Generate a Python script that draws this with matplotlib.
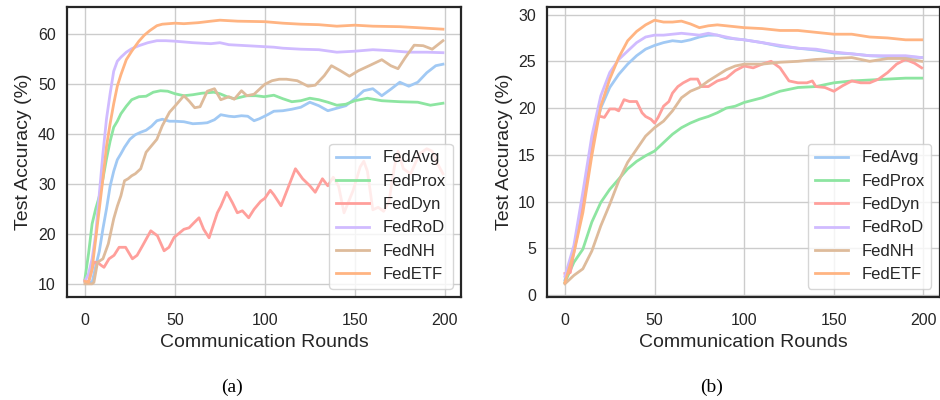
import matplotlib
matplotlib.use("Agg")
import matplotlib.pyplot as plt

plt.rcParams['font.family'] = ['Liberation Sans', 'DejaVu Sans']

methods = ["FedAvg", "FedProx", "FedDyn", "FedRoD", "FedNH", "FedETF"]
colors = ["#a1c9f4", "#8de5a1", "#ff9f9b", "#d0bbff", "#debb9b", "#ffb482"]

# ---- panel (a) ----
a_avg_x = [0, 2, 4, 6, 8, 10, 12, 14, 16, 18, 20, 22, 25, 28, 31, 34, 37, 40, 43, 47, 50, 55, 60, 65, 68,
           72, 75.5, 80, 83, 87, 90.5, 94, 97, 101.5, 105, 110, 115, 120, 125, 130, 135, 140, 145, 150,
           155, 160, 165, 170, 175, 180, 185, 190, 195, 199]
a_avg_y = [10.5, 10.3, 10.3, 13.5, 16.5, 21, 25, 29.5, 32.5, 34.8, 36, 37.3, 38.9, 39.8, 40.3, 40.7, 41.5,
           42.6, 42.9, 42.5, 42.5, 42.4, 42.0, 42.1, 42.2, 42.8, 43.8, 43.5, 43.4, 43.6, 43.5, 42.6, 43.0,
           43.8, 44.5, 44.6, 44.9, 45.3, 46.3, 45.6, 44.6, 45.1, 45.6, 47.0, 48.6, 49.0, 47.6, 48.9, 50.3,
           49.5, 50.3, 52.2, 53.6, 53.9]

a_prox_x = [0, 2, 4, 6, 8, 10, 12, 14, 16, 18, 20, 23, 26, 30, 34, 38, 42, 46, 50, 55, 60, 65, 71.7, 75,
            79, 83, 90, 95, 99.6, 105, 110, 115, 120, 125, 130, 135, 140, 145, 150, 157, 165, 175, 185,
            192, 199]
a_prox_y = [11, 16, 22, 25, 27.5, 31, 35, 38.5, 41.3, 42.5, 44, 45.5, 46.8, 47.4, 47.5, 48.3, 48.6, 48.5,
            48.0, 47.6, 47.8, 48.1, 48.3, 48.0, 47.4, 47.0, 47.6, 47.6, 47.4, 47.7, 47.0, 46.4, 46.6, 47.1,
            46.8, 46.3, 45.7, 45.9, 46.6, 47.1, 46.6, 46.4, 46.3, 45.7, 46.1]

a_dyn_x = [0, 2, 5, 7, 9, 10.6, 13.4, 16.2, 19, 22.6, 26.4, 29, 32, 36.6, 40.3, 44, 46.7, 49.6, 55, 57.9,
           60.6, 63.4, 66, 69, 73.6, 75.5, 78.8, 82, 84.7, 87.5, 91, 94, 97.7, 100, 103, 105, 109, 113,
           117, 121, 125, 128, 132, 135, 138, 141, 144, 149, 153, 155, 157, 160, 163, 166, 169, 172, 174,
           177, 181, 186, 190, 193, 196, 199]
a_dyn_y = [10.7, 10.3, 14.3, 14.3, 13.7, 13.3, 15.0, 15.7, 17.3, 17.3, 15.0, 15.7, 17.6, 20.6, 19.6, 16.6,
           17.3, 19.3, 20.9, 21.2, 22.2, 23.2, 20.9, 19.2, 24.2, 25.5, 28.3, 26.2, 24.2, 24.6, 23.2, 24.9,
           26.5, 27.1, 28.7, 27.8, 25.6, 29.3, 33.0, 31.0, 29.6, 28.3, 31.0, 29.6, 31.3, 29.5, 24.2, 28.6,
           33.4, 34.5, 32.5, 24.8, 25.3, 24.5, 26.5, 33.4, 36.5, 33.0, 32.0, 36.0, 37.0, 36.5, 34.0, 32.0]

a_rod_x = [0, 2, 4, 6, 8, 10, 12, 14, 16, 18, 20, 23, 26, 30, 35, 40, 45, 50, 60, 70, 75, 80, 90, 100, 105,
           110, 120, 130, 140, 150, 160, 170, 180, 190, 199]
a_rod_y = [10.5, 12, 15, 20, 28, 36, 43, 48, 52.5, 54.5, 55.3, 56.3, 57.0, 57.6, 58.2, 58.6, 58.6, 58.5,
           58.2, 58.0, 58.2, 57.8, 57.6, 57.4, 57.3, 57.1, 56.9, 56.8, 56.3, 56.5, 56.8, 56.6, 56.3, 56.3,
           56.2]

a_nh_x = [0, 2, 4, 5, 7, 10, 13, 16, 18, 20, 22, 24, 26, 28, 31, 34, 37, 40, 43, 47, 50, 55, 58, 61, 64,
          68, 72, 75.5, 80, 83, 87, 90, 94, 100, 104, 108, 112, 118, 124, 128, 133, 137, 142, 147, 152,
          158, 165, 170, 174, 178, 183, 188, 193, 199]
a_nh_y = [10, 10, 10, 10.3, 14.3, 15, 18, 23, 25.5, 27.6, 30.6, 31, 31.6, 32, 33, 36.3, 37.6, 38.9, 41.6,
          44.3, 45.5, 47.6, 46.5, 45.2, 45.4, 48.5, 49.0, 46.8, 47.4, 46.9, 48.6, 47.6, 47.9, 49.9, 50.6,
          50.9, 50.9, 50.6, 49.5, 49.7, 51.6, 53.6, 52.6, 51.5, 52.6, 53.6, 54.8, 53.6, 53.0, 55.2, 57.7,
          57.6, 56.9, 58.6]

a_etf_x = [0, 2, 4, 6, 8, 10, 12, 14, 16, 18, 20, 23, 26, 30, 33, 36, 40, 43, 50, 55, 63, 70, 75, 85, 100,
           110, 120, 130, 140, 150, 160, 175, 185, 199]
a_etf_y = [10.5, 10.3, 13, 19, 25, 31, 37.5, 42, 46, 49.5, 51.8, 54.8, 56.5, 58.5, 59.7, 60.6, 61.6, 61.9,
           62.1, 62.0, 62.2, 62.5, 62.7, 62.5, 62.4, 62.1, 61.9, 61.8, 61.5, 61.7, 61.5, 61.4, 61.2, 60.9]

# ---- panel (b) ----
b_x = [0, 5, 10, 15, 20, 25, 30, 35, 40, 45, 50, 55, 60, 65, 70, 75, 80, 85, 90, 95, 100, 110, 120,
       130, 140, 150, 160, 170, 180, 190, 199]
b_avg_y = [1.6, 4.9, 10.2, 16.3, 20.0, 22.2, 23.6, 24.7, 25.6, 26.3, 26.7, 27.0, 27.2, 27.1, 27.3, 27.6,
           27.8, 27.8, 27.5, 27.4, 27.3, 27.0, 26.6, 26.4, 26.2, 25.9, 25.8, 25.6, 25.5, 25.5, 25.4]
b_prox_y = [1.35, 3.5, 4.9, 7.8, 9.9, 11.3, 12.4, 13.5, 14.3, 14.9, 15.4, 16.3, 17.2, 17.9, 18.4, 18.8,
            19.1, 19.5, 20.0, 20.2, 20.6, 21.1, 21.8, 22.2, 22.3, 22.7, 22.9, 23.0, 23.1, 23.2, 23.2]
b_rod_y = [2.0, 5.3, 11.0, 17.0, 21.3, 23.8, 25.2, 26.1, 27.0, 27.6, 27.8, 27.8, 27.9, 28.0, 27.9, 27.8,
           28.0, 27.8, 27.6, 27.4, 27.3, 27.0, 26.7, 26.4, 26.3, 26.0, 25.8, 25.6, 25.6, 25.6, 25.4]
b_nh_y = [1.2, 2.1, 2.8, 4.7, 7.4, 9.7, 12.2, 14.2, 15.6, 17.0, 17.9, 18.6, 19.7, 21.1, 21.8, 22.2, 22.9,
          23.5, 24.1, 24.5, 24.7, 24.7, 24.9, 25.0, 25.2, 25.3, 25.4, 25.0, 25.3, 25.3, 25.0]
b_etf_y = [1.35, 4.5, 8.8, 14.9, 20.2, 23.1, 25.4, 27.2, 28.2, 28.9, 29.4, 29.2, 29.2, 29.3, 29.0, 28.6,
           28.8, 28.9, 28.8, 28.7, 28.6, 28.5, 28.3, 28.3, 28.1, 27.9, 27.9, 27.6, 27.5, 27.3, 27.3]

b_dyn_x = [0, 3, 5, 10, 15, 18, 20, 22, 25, 28, 30, 33, 36, 40, 43, 45, 48, 50, 52, 55, 58, 60, 63, 66,
           70, 74, 76, 80, 85, 90, 95, 100, 105, 110, 115, 120, 125, 130, 135, 138, 140, 145, 150, 155,
           160, 165, 170, 175, 180, 185, 190, 195, 199]
b_dyn_y = [2.3, 2.4, 4.6, 9.5, 16.3, 19.1, 19.1, 19.0, 19.9, 19.9, 19.7, 20.9, 20.7, 20.7, 19.5, 19.1,
           18.8, 18.4, 19.0, 20.2, 20.7, 21.6, 22.3, 22.7, 23.1, 23.1, 22.3, 22.3, 22.9, 23.2, 24.0, 24.5,
           24.3, 24.7, 25.0, 24.3, 22.9, 22.7, 22.7, 22.9, 22.3, 22.2, 21.8, 22.4, 22.9, 22.7, 22.7, 23.1,
           23.8, 24.7, 25.2, 24.8, 24.3]

panel_a = [(a_avg_x, a_avg_y), (a_prox_x, a_prox_y), (a_dyn_x, a_dyn_y),
           (a_rod_x, a_rod_y), (a_nh_x, a_nh_y), (a_etf_x, a_etf_y)]
panel_b = [(b_x, b_avg_y), (b_x, b_prox_y), (b_dyn_x, b_dyn_y),
           (b_x, b_rod_y), (b_x, b_nh_y), (b_x, b_etf_y)]

fig = plt.figure(figsize=(9.4, 4.0), dpi=100)
ax_a = fig.add_axes([0.0713, 0.2575, 0.419, 0.725])
ax_b = fig.add_axes([0.582, 0.2575, 0.4175, 0.725])

for ax, series, caption, cx in [(ax_a, panel_a, "(a)", 0.247), (ax_b, panel_b, "(b)", 0.757)]:
    for (xs, ys), name, c in zip(series, methods, colors):
        ax.plot(xs, ys, color=c, lw=2, label=name)
    ax.grid(True, color="#cccccc", lw=1)
    ax.set_axisbelow(True)
    for sp in ax.spines.values():
        sp.set_color("#262626")
        sp.set_linewidth(1.6)
    ax.tick_params(length=0, pad=8, labelsize=11.5, colors="#262626")
    ax.tick_params(axis="x", pad=11.5)
    ax.set_xticks([0, 50, 100, 150, 200])
    ax.set_xlabel("Communication Rounds", fontsize=14, color="#262626", labelpad=4.5)
    ax.set_ylabel("Test Accuracy (%)", fontsize=14, color="#262626", labelpad=4)
    leg = ax.legend(loc="lower right", fontsize=12, framealpha=0.8, edgecolor="#cccccc")
    for t in leg.get_texts():
        t.set_color("#262626")
    fig.text(cx, 0.032, caption, ha="center", va="center", fontsize=14,
             family=["Liberation Serif", "DejaVu Serif"])

ax_a.set_yticks([10, 20, 30, 40, 50, 60])
ax_b.set_yticks([0, 5, 10, 15, 20, 25, 30])

fig.savefig("out.png", dpi=100)
